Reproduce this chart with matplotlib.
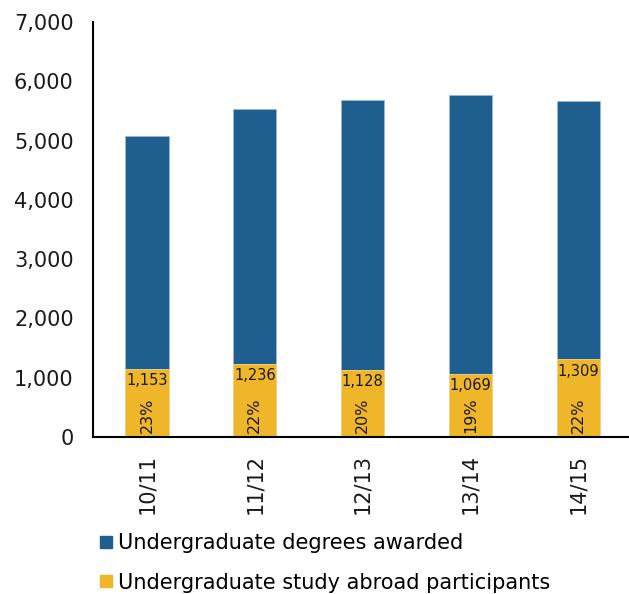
import matplotlib
matplotlib.use("Agg")
import matplotlib.pyplot as plt
from matplotlib.lines import Line2D

years = ["10/11", "11/12", "12/13", "13/14", "14/15"]
degrees = [5080, 5525, 5685, 5760, 5665]
abroad = [1153, 1236, 1128, 1069, 1309]
shares = ["23%", "22%", "20%", "19%", "22%"]
yticks = [0, 1000, 2000, 3000, 4000, 5000, 6000, 7000]

blue = "#1e5f8f"
gold = "#f0b629"

plt.rcParams["font.family"] = ["DejaVu Sans"]

fig = plt.figure(figsize=(6.29, 5.94), dpi=100)
ax = fig.add_axes([0.148, 0.2643, 0.857, 0.6987])

x = range(len(years))
ax.bar(x, degrees, width=0.4, color=blue, edgecolor="#9db8d2", linewidth=0.6)
ax.bar(x, abroad, width=0.4, color=gold, edgecolor="#f5d98a", linewidth=0.6)

for i in x:
    ax.annotate(f"{abroad[i]:,}", (i, abroad[i]), xytext=(0, -3), textcoords="offset points",
                ha="center", va="top", fontsize=10.5, color="#1a1a1a")
    ax.annotate(shares[i], (i, 0), xytext=(0, 3), textcoords="offset points",
                ha="center", va="bottom", rotation=90, fontsize=11.5, color="#1a1a1a")

ax.set_xlim(-0.5, len(years) - 0.5)
ax.set_ylim(0, 7000)
ax.set_yticks(yticks)
ax.set_yticklabels([f"{v:,}" for v in yticks], fontsize=15, color="#1a1a1a")
ax.set_xticks(list(x))
ax.set_xticklabels(years, rotation=90, fontsize=15, color="#1a1a1a")
ax.tick_params(length=0, pad=14)
ax.tick_params(axis="x", pad=12)
for s in ["top", "right"]:
    ax.spines[s].set_visible(False)
ax.spines["left"].set_linewidth(1.5)
ax.spines["bottom"].set_linewidth(1.5)

handles = [Line2D([], [], marker="s", linestyle="none", markersize=9, color=blue),
           Line2D([], [], marker="s", linestyle="none", markersize=9, color=gold)]
fig.legend(handles, ["Undergraduate degrees awarded", "Undergraduate study abroad participants"],
           loc="upper left", bbox_to_anchor=(0.158, 0.103), frameon=False, fontsize=15,
           handlelength=0.6, handletextpad=0.3, labelspacing=0.95, borderpad=0, borderaxespad=0)

fig.savefig("out.png", dpi=100)
